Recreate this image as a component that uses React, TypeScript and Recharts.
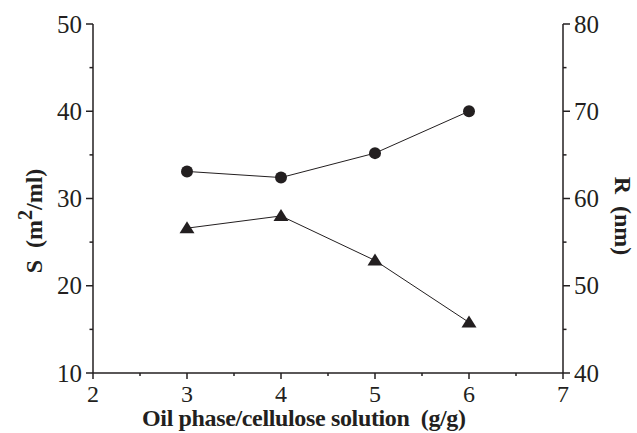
import React from 'react';
import { LineChart, Line, XAxis, YAxis } from 'recharts';

const xValues = [3, 4, 5, 6];
const sValues = [33.1, 32.4, 35.2, 40.0];
const rValues = [56.6, 58.0, 52.9, 45.8];
const xTicks = [2, 2.5, 3, 3.5, 4, 4.5, 5, 5.5, 6, 6.5, 7];
const sTicks = [10, 15, 20, 25, 30, 35, 40, 45, 50];
const rTicks = [40, 45, 50, 55, 60, 65, 70, 75, 80];

const xTitle = 'Oil phase/cellulose solution  (g/g)';
const sTitle = 'S  (m';
const sTitleEnd = '/ml)';
const rTitle = 'R  (nm)';

const data = xValues.map((x, i) => ({ x, s: sValues[i], r: rValues[i] }));

const FONT = '"Liberation Serif", "Times New Roman", serif';
const INK = '#231f20';
const TICK_FS = 25;
const TITLE_FS = 24;

const BottomTick = (props: any) => {
  const { x, y, payload } = props;
  const v = payload.value;
  const major = Math.abs(v - Math.round(v)) < 1e-9;
  return (
    <g>
      <line x1={x} y1={y} x2={x} y2={y + (major ? 6 : 3)} stroke={INK} strokeWidth={1.5} />
      {major && (
        <text x={x} y={y + 21} textAnchor="middle" dominantBaseline="central" fontFamily={FONT} fontSize={24} fill={INK}>
          {v}
        </text>
      )}
    </g>
  );
};

const LeftTick = (props: any) => {
  const { x, y, payload } = props;
  const v = payload.value;
  const major = v % 10 === 0;
  return (
    <g>
      <line x1={x} y1={y} x2={x - (major ? 7 : 3.5)} y2={y} stroke={INK} strokeWidth={1.5} />
      {major && (
        <text x={x - 11} y={y} textAnchor="end" dominantBaseline="central" fontFamily={FONT} fontSize={TICK_FS} fill={INK}>
          {v}
        </text>
      )}
    </g>
  );
};

const RightTick = (props: any) => {
  const { x, y, payload } = props;
  const v = payload.value;
  const major = v % 10 === 0;
  return (
    <g>
      <line x1={x} y1={y} x2={x + (major ? 7 : 3.5)} y2={y} stroke={INK} strokeWidth={1.5} />
      {major && (
        <text x={x + 11} y={y} textAnchor="start" dominantBaseline="central" fontFamily={FONT} fontSize={TICK_FS} fill={INK}>
          {v}
        </text>
      )}
    </g>
  );
};

const CircleDot = (props: any) => {
  const { cx, cy } = props;
  if (cx == null || cy == null) return null;
  return <circle cx={cx} cy={cy} r={6} fill={INK} />;
};

const TriangleDot = (props: any) => {
  const { cx, cy } = props;
  if (cx == null || cy == null) return null;
  return <polygon points={`${cx},${cy - 7} ${cx - 7.5},${cy + 5} ${cx + 7.5},${cy + 5}`} fill={INK} />;
};

export default function App() {
  return (
    <div style={{ position: 'absolute', left: 0, top: 0, width: 637, height: 433, background: '#fff' }}>
      <LineChart width={637} height={433} data={data} margin={{ top: 24, right: 0, bottom: 0, left: 0 }}>
        <XAxis
          dataKey="x"
          type="number"
          domain={[2, 7]}
          ticks={xTicks}
          interval={0}
          tickSize={0}
          tickMargin={0}
          tickLine={false}
          tick={BottomTick}
          height={60}
          axisLine={{ stroke: INK, strokeWidth: 1.5 }}
          allowDataOverflow
        />
        <XAxis
          xAxisId="top"
          orientation="top"
          dataKey="x"
          type="number"
          domain={[2, 7]}
          tick={false}
          tickLine={false}
          height={0}
          axisLine={{ stroke: INK, strokeWidth: 1.5 }}
        />
        <YAxis
          yAxisId="left"
          orientation="left"
          type="number"
          domain={[10, 50]}
          ticks={sTicks}
          interval={0}
          tickSize={0}
          tickMargin={0}
          tickLine={false}
          tick={LeftTick}
          width={93}
          axisLine={{ stroke: INK, strokeWidth: 1.5 }}
        />
        <YAxis
          yAxisId="right"
          orientation="right"
          type="number"
          domain={[40, 80]}
          ticks={rTicks}
          interval={0}
          tickSize={0}
          tickMargin={0}
          tickLine={false}
          tick={RightTick}
          width={74}
          axisLine={{ stroke: INK, strokeWidth: 1.5 }}
        />
        <Line
          yAxisId="left"
          dataKey="s"
          stroke={INK}
          strokeWidth={1}
          dot={CircleDot}
          activeDot={false}
          isAnimationActive={false}
        />
        <Line
          yAxisId="right"
          dataKey="r"
          stroke={INK}
          strokeWidth={1}
          dot={TriangleDot}
          activeDot={false}
          isAnimationActive={false}
        />
      </LineChart>
      <svg width={637} height={433} style={{ position: 'absolute', left: 0, top: 0, pointerEvents: 'none' }}>
        <text
          x={142}
          y={426}
          textAnchor="start"
          fontFamily={FONT}
          fontWeight="bold"
          fontSize={TITLE_FS}
          fill={INK}
          textLength={324}
          lengthAdjust="spacing"
          style={{ whiteSpace: 'pre' }}
        >
          {xTitle}
        </text>
        <text
          transform="translate(41.5,221) rotate(-90)"
          x={0}
          y={0}
          textAnchor="middle"
          fontFamily={FONT}
          fontWeight="bold"
          fontSize={TITLE_FS}
          fill={INK}
          style={{ whiteSpace: 'pre' }}
        >
          {sTitle}
          <tspan dy={-10} fontSize={20}>2</tspan>
          <tspan dy={10}>{sTitleEnd}</tspan>
        </text>
        <text
          transform="translate(615,216) rotate(90)"
          x={0}
          y={0}
          textAnchor="middle"
          fontFamily={FONT}
          fontWeight="bold"
          fontSize={TITLE_FS}
          fill={INK}
          style={{ whiteSpace: 'pre' }}
        >
          {rTitle}
        </text>
      </svg>
    </div>
  );
}
